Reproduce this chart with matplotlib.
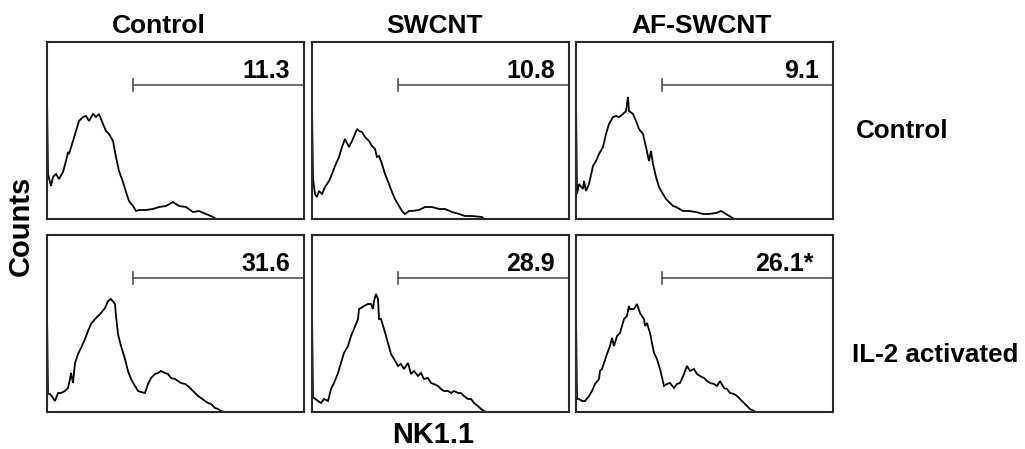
import matplotlib
matplotlib.use("Agg")
import matplotlib.pyplot as plt

plt.rcParams['font.family'] = ['Liberation Sans', 'DejaVu Sans']
plt.rcParams['font.weight'] = 'bold'

# ---------------- data ----------------
col_labels = ["Control", "SWCNT", "AF-SWCNT"]
row_labels = ["Control", "IL-2 activated"]
percent_labels = [["11.3", "10.8", "9.1"], ["31.6", "28.9", "26.1*"]]
gate_start = 86      # NK1.1 channel where the positive gate begins
gate_level = 134     # counts level at which the gate is drawn
x_max = 257
y_max = 177

# Control row, Control column
c_c_x = [0, 1, 4, 6, 9, 12, 16, 19, 21, 22, 26, 29, 32, 36, 39, 42, 46, 49, 52, 56, 59, 62, 66, 69,
         72, 76, 79, 82, 86, 89, 92, 99, 106, 112, 119, 126, 132, 139, 146, 152, 159, 166, 169]
c_c_y = [123, 45, 33, 42, 45, 40, 47, 58, 67, 65, 78, 88, 98, 102, 103, 98, 105, 102, 105, 95, 88, 85, 78, 62,
         48, 37, 27, 18, 13, 8, 9, 9, 10, 12, 13, 17, 13, 12, 7, 8, 5, 2, 0]

# Control row, SWCNT column
c_s_x = [0, 1, 3, 5, 7, 10, 13, 17, 20, 23, 27, 30, 33, 37, 40, 43, 45, 47, 50, 53, 57, 60, 63, 65,
         67, 70, 73, 77, 80, 83, 87, 90, 93, 97, 100, 107, 113, 120, 127, 133, 140, 147, 153, 160, 170, 172]
c_s_y = [110, 40, 25, 22, 28, 25, 32, 38, 45, 53, 62, 72, 80, 72, 78, 85, 90, 88, 87, 82, 78, 73, 70, 62,
         63, 55, 45, 35, 27, 20, 13, 8, 5, 8, 8, 9, 12, 12, 10, 10, 7, 5, 3, 3, 2, 0]

# Control row, AF-SWCNT column
c_a_x = [0, 1, 3, 7, 8, 10, 13, 17, 20, 23, 27, 30, 33, 37, 40, 43, 47, 50, 52, 53, 57, 60, 63, 67,
         70, 73, 75, 77, 80, 83, 87, 90, 93, 97, 100, 107, 113, 120, 127, 133, 140, 145, 150, 155, 158]
c_a_y = [118, 25, 35, 30, 38, 28, 35, 53, 58, 65, 72, 85, 95, 102, 103, 102, 105, 108, 122, 108, 105, 98, 90, 85,
         72, 58, 68, 55, 42, 32, 25, 20, 17, 13, 12, 8, 8, 7, 5, 5, 6, 8, 5, 2, 0]

# IL-2 row, Control column
i_c_x = [0, 1, 3, 6, 8, 11, 14, 18, 21, 23, 24, 26, 28, 31, 34, 38, 41, 44, 48, 51, 54, 58, 61, 64,
         68, 69, 71, 74, 78, 81, 84, 88, 91, 94, 98, 101, 104, 108, 111, 114, 118, 121, 124, 128, 131,
         134, 138, 141, 144, 148, 151, 154, 158, 161, 164, 168, 171, 174, 178]
i_c_y = [99, 18, 18, 14, 11, 19, 19, 21, 24, 33, 39, 29, 49, 58, 64, 73, 81, 88, 93, 96, 99, 104, 111, 113,
         108, 96, 78, 66, 53, 41, 33, 26, 21, 20, 19, 28, 34, 38, 39, 41, 39, 38, 34, 33, 31,
         29, 28, 26, 23, 19, 16, 14, 11, 9, 8, 4, 3, 1, 0]

# IL-2 row, SWCNT column
i_s_x = [0, 1, 2, 6, 9, 12, 16, 19, 22, 26, 29, 32, 36, 39, 42, 46, 47, 49, 52, 56, 59, 61, 62, 64,
         66, 67, 69, 72, 76, 79, 82, 86, 89, 92, 96, 99, 102, 106, 109, 112, 116, 119, 122, 126, 129,
         132, 136, 139, 142, 146, 149, 152, 156, 159, 162, 166, 169, 172, 174]
i_s_y = [98, 14, 14, 11, 9, 13, 11, 23, 29, 39, 49, 59, 66, 76, 83, 93, 103, 104, 106, 108, 108, 103, 111, 118,
         113, 93, 93, 83, 69, 58, 53, 46, 48, 43, 49, 38, 41, 36, 39, 33, 34, 29, 28, 26, 23,
         21, 21, 19, 21, 19, 19, 16, 13, 13, 9, 6, 3, 1, 0]

# IL-2 row, AF-SWCNT column
i_a_x = [0, 1, 3, 6, 9, 13, 16, 19, 23, 24, 26, 28, 31, 34, 36, 38, 41, 44, 48, 51, 53, 54, 58, 61,
         64, 68, 69, 71, 74, 78, 81, 84, 88, 91, 94, 98, 101, 104, 108, 111, 114, 118, 121, 124, 128,
         131, 134, 138, 141, 144, 148, 151, 154, 158, 161, 164, 168, 171, 174, 178, 179]
i_a_y = [96, 13, 13, 11, 11, 16, 21, 28, 33, 41, 43, 49, 58, 66, 74, 66, 76, 79, 93, 96, 106, 103, 103, 108,
         99, 93, 86, 89, 79, 59, 53, 43, 26, 28, 29, 24, 28, 29, 38, 46, 41, 43, 38, 36, 34,
         31, 29, 28, 26, 31, 24, 23, 19, 18, 16, 13, 9, 6, 3, 1, 0]

curves = [[(c_c_x, c_c_y), (c_s_x, c_s_y), (c_a_x, c_a_y)],
          [(i_c_x, i_c_y), (i_s_x, i_s_y), (i_a_x, i_a_y)]]

# ---------------- layout ----------------
W, H = 1025, 449
fig = plt.figure(figsize=(W / 100, H / 100), dpi=100)

col_left_px = [47, 312, 576]
row_top_px = [42, 235]
ax_w_px, ax_h_px = 257, 177

for r in range(2):
    for c in range(3):
        left = col_left_px[c] / W
        bottom = 1 - (row_top_px[r] + ax_h_px) / H
        ax = fig.add_axes([left, bottom, ax_w_px / W, ax_h_px / H])
        xs, ys = curves[r][c]
        ax.plot(xs, ys, color='black', lw=1.3, solid_joinstyle='miter')
        ax.set_xlim(0, x_max)
        ax.set_ylim(0, y_max)
        ax.set_xticks([])
        ax.set_yticks([])
        for sp in ax.spines.values():
            sp.set_color('#2a2a2a')
            sp.set_linewidth(1.5)
        # gate
        ax.plot([gate_start, x_max], [gate_level, gate_level], color='#555555', lw=1.2)
        ax.plot([gate_start, gate_start], [gate_level - 6, gate_level + 6], color='#555555', lw=1.2)
        txt = percent_labels[r][c]
        xr = 243 if not txt.endswith('*') else 238
        ax.text(xr, 141, txt, ha='right', va='baseline', fontsize=18, fontweight='bold')

# column titles
title_cx = [159, 434, 702]
for c, lab in enumerate(col_labels):
    fig.text(title_cx[c] / W, 1 - 33 / H, lab, ha='center', va='baseline',
             fontsize=19, fontweight='bold')

# row labels
row_cy = [131, 355]
row_lx = [856, 852]
for r, lab in enumerate(row_labels):
    fig.text(row_lx[r] / W, 1 - row_cy[r] / H, lab, ha='left', va='center',
             fontsize=18.7, fontweight='bold')

fig.text(433 / W, 1 - 435 / H, "NK1.1", ha='center', va='center', fontsize=20.8, fontweight='bold')
fig.text(21 / W, 1 - 226 / H, "Counts", ha='center', va='center', rotation=90,
         fontsize=21, fontweight='bold')

fig.savefig("out.png", dpi=100, facecolor='white')
